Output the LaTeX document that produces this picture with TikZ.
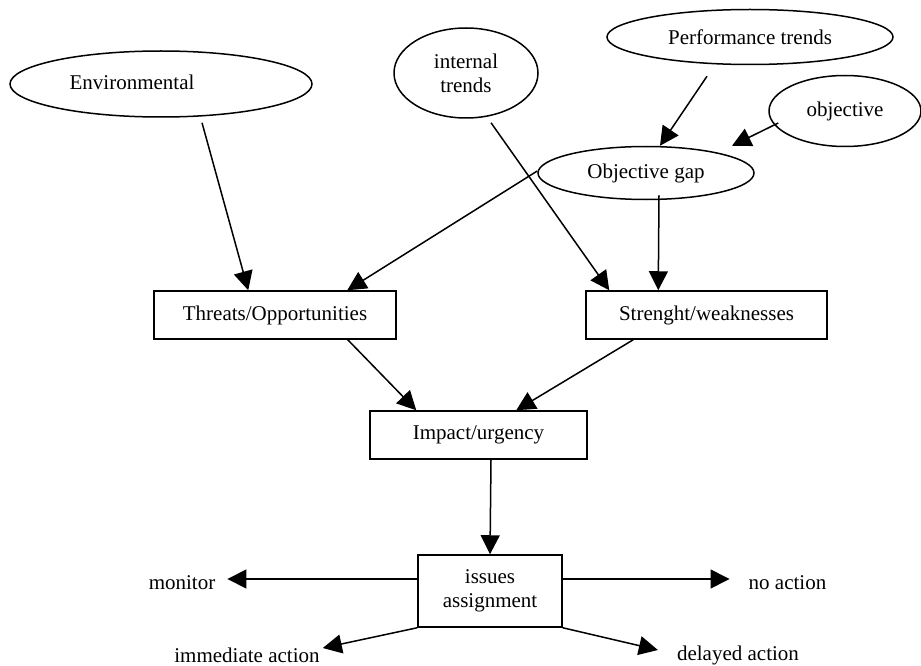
\documentclass[tikz,border=0pt]{standalone}
\usepackage{fontspec}
\setmainfont{Liberation Serif}
\usetikzlibrary{shapes.geometric,arrows.meta,calc}
\begin{document}
\begin{tikzpicture}[x=1pt,y=-1pt,
  font=\fontsize{21}{24}\selectfont,
  ell/.style={draw, ellipse, line width=1.5pt, inner sep=0pt},
  box/.style={draw, rectangle, line width=1.5pt, inner sep=0pt, align=center},
  lbl/.style={inner sep=0pt, align=center},
  arr/.style={line width=1.5pt, -{Triangle[length=19pt,width=19pt]}}]
\useasboundingbox (0,0) rectangle (921,666);
% ellipses
\node[ell, minimum width=302pt, minimum height=66pt] (env) at (161,84) {};
\node[lbl] (envt) at (132,82) {Environmental};
\node[ell, minimum width=144pt, minimum height=90pt, align=center] (int) at (466,73) {internal\\trends};
\node[ell, minimum width=286pt, minimum height=55pt] (perf) at (750,37) {Performance trends};
\node[ell, minimum width=152pt, minimum height=71pt] (obj) at (845,111) {objective};
\node[ell, minimum width=216pt, minimum height=53pt] (gap) at (646,173) {Objective gap};
% boxes
\node[box, minimum width=242pt, minimum height=48pt] (thr) at (275,315) {Threats/Opportunities};
\node[box, minimum width=241pt, minimum height=48pt] (str) at (706.5,315) {Strenght/weaknesses};
\node[box, minimum width=217pt, minimum height=48pt] (imp) at (478.5,435) {Impact/urgency};
\node[box, minimum width=144pt, minimum height=72pt] (iss) at (490,591) {issues\\assignment};
% outcome labels
\node[lbl] (mon) at (182,583) {monitor};
\node[lbl] (noa) at (787.5,583) {no action};
\node[lbl] (imm) at (247,655) {immediate action};
\node[lbl] (del) at (738,655) {delayed action};
% connectors
\draw[arr] ($(env.south)+(41,5)$) -- ($(thr.north west)+(95,0)$);
\draw[arr] ($(gap.west)+(0,-2)$) -- ($(thr.north west)+(194,0)$);
\draw[arr] ($(int.south)+(25,4)$) -- ($(str.north west)+(24,0)$);
\draw[arr] ($(gap.south)+(13,-5)$) -- ($(str.north west)+(73,0)$);
\draw[arr] ($(perf.south)+(-43,11)$) -- ($(gap.north)+(14,0)$);
\draw[arr] ($(obj.west)+(10,12)$) -- ($(gap.north)+(86,0)$);
\draw[arr] ($(thr.south east)+(-49,0)$) -- ($(imp.north west)+(47,0)$);
\draw[arr] ($(str.south west)+(48,0)$) -- ($(imp.north west)+(147,0)$);
\draw[arr] ($(imp.south)+(12.5,0)$) -- (iss.north);
\draw[arr] ($(iss.west)+(0,-12)$) -- ($(mon.east)+(12,-4)$);
\draw[arr] ($(iss.east)+(0,-12)$) -- ($(noa.west)+(-19,-4)$);
\draw[arr] (iss.south west) -- ($(imm.east)+(3,-7)$);
\draw[arr] (iss.south east) -- ($(del.west)+(-19,-5)$);
\end{tikzpicture}
\end{document}
